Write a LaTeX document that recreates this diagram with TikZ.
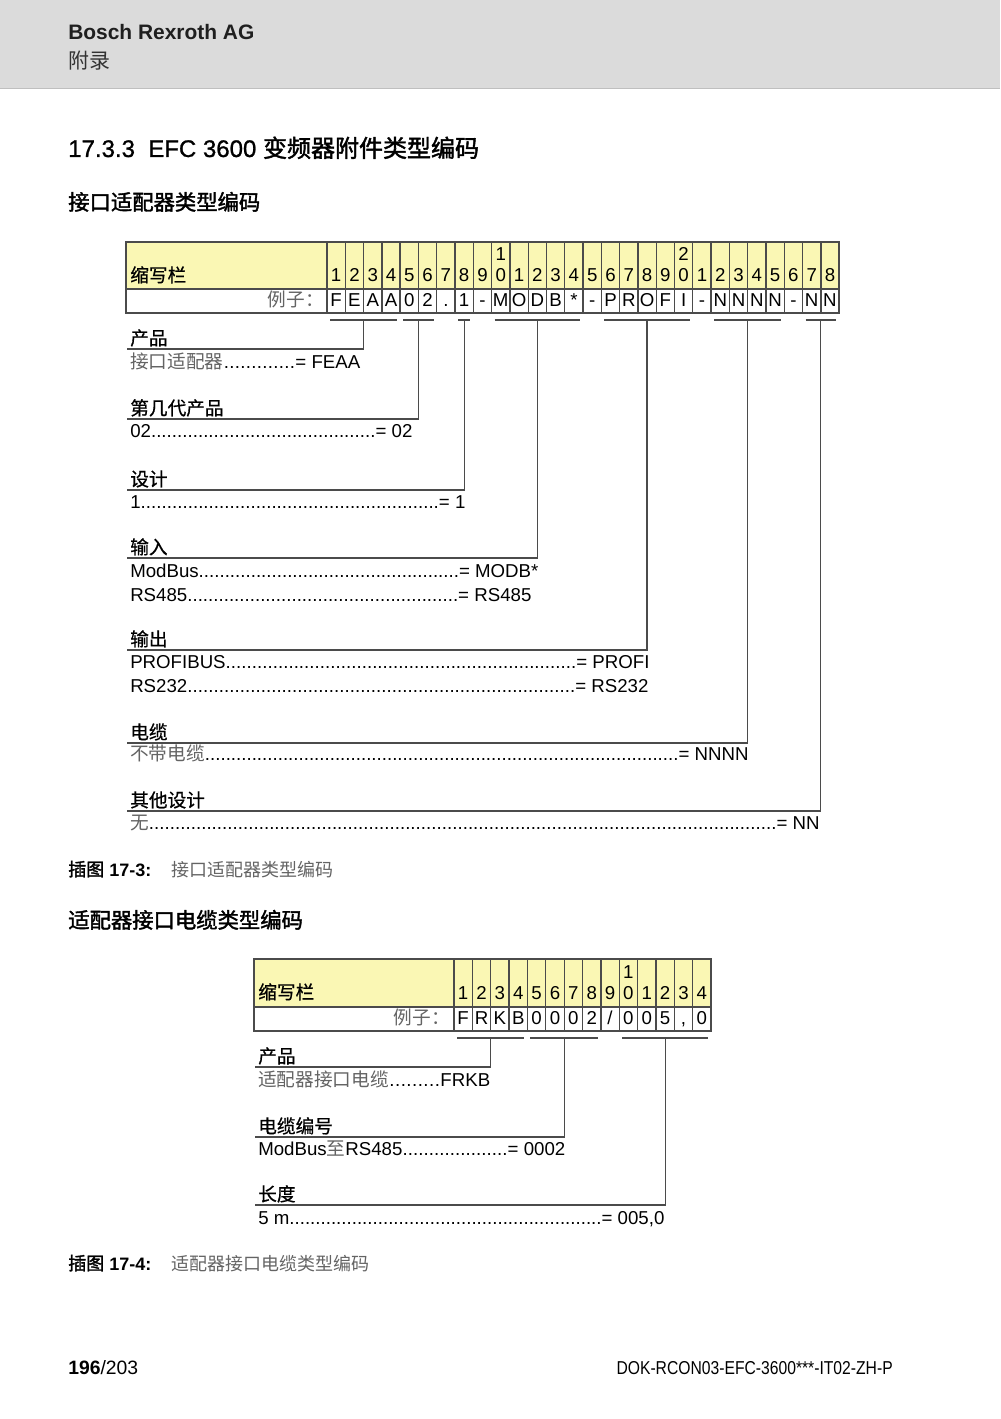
\documentclass[tikz,border=0pt]{standalone}
\usepackage{fontspec}
\usepackage{graphicx}
\setmainfont{Liberation Sans}
\newfontfamily\cjk{Noto Sans CJK SC}
\newfontfamily\cjkmed{Noto Sans CJK SC}[FakeBold=0.7]
\newfontfamily\cjkhead{Noto Sans CJK SC}[FakeBold=1.8]
\newfontfamily\sanshead{Liberation Sans}[FakeBold=1.0]
\definecolor{hdrgray}{RGB}{219,219,219}
\definecolor{cellyellow}{RGB}{250,247,180}
\definecolor{txtgray}{RGB}{100,100,100}
\definecolor{linegray}{RGB}{75,75,75}
\newcommand\dotrow[3]{\makebox[#1][s]{#2\xleaders\hbox{.}\hfill#3}}
\newcommand\gr[1]{{\color{txtgray}\cjk #1}}
\begin{document}
\begin{tikzpicture}[x=0.75pt,y=-0.75pt,
  txt/.style={anchor=base west, inner sep=0pt, font=\fontsize{14}{16}\selectfont},
  txtr/.style={anchor=base east, inner sep=0pt, font=\fontsize{14}{16}\selectfont},
  cat/.style={anchor=base west, inner sep=0pt, font=\fontsize{14}{16}\selectfont\cjkmed},
  cellc/.style={anchor=base, inner sep=0pt, font=\fontsize{14}{16}\selectfont},
  tab/.style={draw=linegray, line width=1pt},
  conn/.style={draw=linegray, line width=0.9pt},
  subhead/.style={anchor=base west, inner sep=0pt, font=\fontsize{16}{18}\selectfont\cjkhead},
  captxt/.style={anchor=base west, inner sep=0pt, font=\fontsize{13.5}{16}\selectfont},
]
\useasboundingbox (0,0) rectangle (1000,1419);
\fill[white] (0,0) rectangle (1000,1419);
% header band
\fill[hdrgray] (0,0) rectangle (1000,88);
\draw[black!25, line width=0.6pt] (0,88) -- (1000,88);
\node[txt, font=\fontsize{15.7}{18}\selectfont\bfseries, text=black!88] (brand) at (68,40) {Bosch Rexroth AG};
\node[txt, font=\fontsize{15.7}{18}\selectfont\cjk, text=black!80] (chap) at (68,69) {附录};
% titles
\node[txt, font=\fontsize{18}{20}\selectfont\sanshead] (title) at (68,157) {17.3.3\ \ EFC 3600 {\cjkhead 变频器附件类型编码}};
\node[subhead] (sub1) at (68,210) {接口适配器类型编码};

% ---------- table 1 ----------
\def\xa{327}\def\wa{18.29}
\fill[cellyellow] (126,242) rectangle (839,289);
\foreach \i in {0,...,27} \draw[tab] ({\xa+\wa*\i},242) -- ({\xa+\wa*\i},313);
\draw[tab] (126,289) -- (839,289);
\draw[tab] (126,242) rectangle (839,313);
\node[cat] (ta-lab) at (130,282) {缩写栏};
\node[txtr] (ta-ex) at (324,306) {\color{txtgray}\cjk 例子：};
\foreach \i in {1,...,28}{
  \pgfmathtruncatemacro\dd{mod(\i,10)}
  \node[cellc] (ta\i) at ({\xa+\wa*(\i-0.5)},282) {\dd};
}
\node[cellc] (tatop10) at ({\xa+\wa*9.5},261) {1};
\node[cellc] (tatop20) at ({\xa+\wa*19.5},261) {2};
\foreach \c [count=\i] in {F,E,A,A,0,2,.,1,-,M,O,D,B,*,-,P,R,O,F,I,-,N,N,N,N,-,N,N}{
  \node[cellc] (tb\i) at ({\xa+\wa*(\i-0.5)},306) {\c};
}
% brackets and leaders
\foreach \a/\b/\u [count=\k] in {1/4/349,5/6/419,8/8/490,10/14/558,16/20/650,22/25/743,27/28/811}{
  \coordinate (gL\k) at ({\xa+\wa*(\a-1)+3},320);
  \coordinate (gR\k) at ({\xa+\wa*\b-3},320);
  \coordinate (gM\k) at ({\xa+\wa*(\a-1+\b)/2},320);
  \coordinate (h\k) at (127,\u);
  \draw[conn] (gL\k) -- (gR\k);
  \draw[conn] (gM\k) |- (h\k);
}
\node[cat] (c1) at (130,345) {产品};
\node[cat] (c2) at (130,415) {第几代产品};
\node[cat] (c3) at (130,486) {设计};
\node[cat] (c4) at (130,554) {输入};
\node[cat] (c5) at (130,646) {输出};
\node[cat] (c6) at (130,739) {电缆};
\node[cat] (c7) at (130,807) {其他设计};

\node[txt] (v1) at (130,368) {\dotrow{172.5pt}{\gr{接口适配器}}{= FEAA}};
\node[txt] (v2) at (130,437) {\dotrow{211.5pt}{02}{= 02}};
\node[txt] (v3) at (130,508) {\dotrow{251.25pt}{1}{= 1}};
\node[txt] (v4) at (130,577) {\dotrow{306pt}{ModBus}{= MODB*}};
\node[txt] (v5) at (130,601) {\dotrow{300.75pt}{RS485}{= RS485}};
\node[txt] (v6) at (130,668) {\dotrow{389.25pt}{PROFIBUS}{= PROFI}};
\node[txt] (v7) at (130,692) {\dotrow{388.5pt}{RS232}{= RS232}};
\node[txt] (v8) at (130,760) {\dotrow{463.5pt}{\gr{不带电缆}}{= NNNN}};
\node[txt] (v9) at (130,829) {\dotrow{516.75pt}{\gr{无}}{= NN}};

% caption 1
\node[captxt] (cap1a) at (68,876) {{\cjkhead 插图} \textbf{17-3:}};
\node[captxt] (cap1b) at (171,876) {\gr{接口适配器类型编码}};
\node[subhead] (sub2) at (68,928) {适配器接口电缆类型编码};

% ---------- table 2 ----------
\def\xb{454}\def\wb{18.36}
\fill[cellyellow] (254,959) rectangle (711,1007);
\foreach \i in {0,...,13} \draw[tab] ({\xb+\wb*\i},959) -- ({\xb+\wb*\i},1031);
\draw[tab] (254,1007) -- (711,1007);
\draw[tab] (254,959) rectangle (711,1031);
\node[cat] (tc-lab) at (258,999) {缩写栏};
\node[txtr] (tc-ex) at (450,1024) {\color{txtgray}\cjk 例子：};
\foreach \i in {1,...,14}{
  \pgfmathtruncatemacro\dd{mod(\i,10)}
  \node[cellc] (tc\i) at ({\xb+\wb*(\i-0.5)},999) {\dd};
}
\node[cellc] (tctop10) at ({\xb+\wb*9.5},978) {1};
\foreach \c [count=\i] in {F,R,K,B,0,0,0,2,/,0,0,5,{,},0}{
  \node[cellc] (td\i) at ({\xb+\wb*(\i-0.5)},1024) {\c};
}
\foreach \a/\b/\u [count=\k] in {1/4/1067,5/8/1137,10/14/1205}{
  \coordinate (kL\k) at ({\xb+\wb*(\a-1)+3},1038);
  \coordinate (kR\k) at ({\xb+\wb*\b-3},1038);
  \coordinate (kM\k) at ({\xb+\wb*(\a-1+\b)/2},1038);
  \coordinate (e\k) at (255,\u);
  \draw[conn] (kL\k) -- (kR\k);
  \draw[conn] (kM\k) |- (e\k);
}
\node[cat] (d1) at (258,1063) {产品};
\node[cat] (d2) at (258,1133) {电缆编号};
\node[cat] (d3) at (258,1201) {长度};
\node[txt] (w1) at (258,1086) {\dotrow{174pt}{\gr{适配器接口电缆}}{FRKB}};
\node[txt] (w2) at (258,1155) {\dotrow{230.25pt}{ModBus\gr{至}RS485}{= 0002}};
\node[txt] (w3) at (258,1224) {\dotrow{304.5pt}{5 m}{= 005,0}};

% caption 2
\node[captxt] (cap2a) at (68,1270) {{\cjkhead 插图} \textbf{17-4:}};
\node[captxt] (cap2b) at (171,1270) {\gr{适配器接口电缆类型编码}};

% footer
\node[txt, font=\fontsize{14.5}{16}\selectfont] (page) at (68,1374) {\textbf{196}/203};
\node[txtr, font=\fontsize{14}{16}\selectfont] (doc) at (893,1374) {\scalebox{0.84}[1]{DOK-RCON03-EFC-3600***-IT02-ZH-P}};
\end{tikzpicture}
\end{document}
